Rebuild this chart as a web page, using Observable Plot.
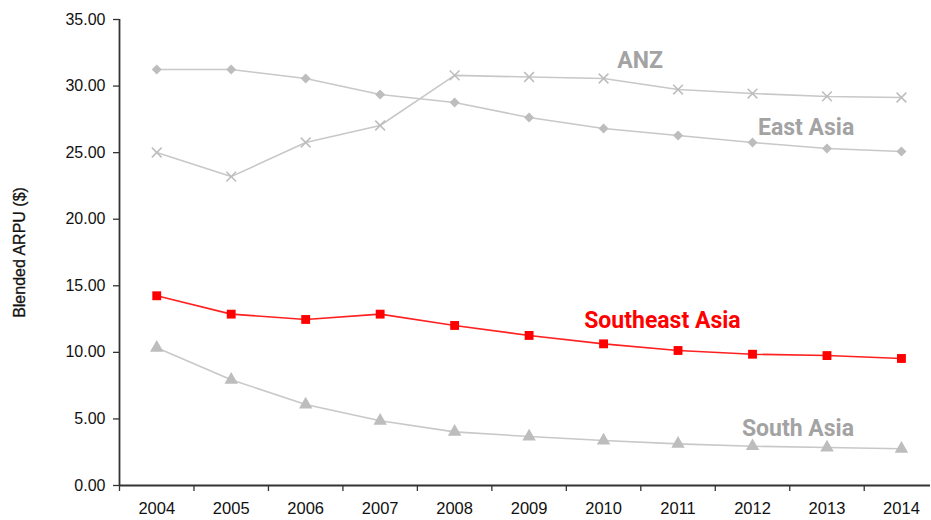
<!DOCTYPE html>
<html>
<head>
<meta charset="utf-8">
<script src="https://cdn.jsdelivr.net/npm/d3@7"></script>
<script src="https://cdn.jsdelivr.net/npm/@observablehq/plot@0.6"></script>
<style>
  html, body { margin: 0; padding: 0; background: #fff; }
  svg { display: block; }
</style>
</head>
<body>
<div id="chart"></div>
<script>
const years = [2004, 2005, 2006, 2007, 2008, 2009, 2010, 2011, 2012, 2013, 2014];
const eastAsia = [31.25, 31.25, 30.57, 29.37, 28.77, 27.64, 26.81, 26.29, 25.76, 25.31, 25.09];
const anz = [25.01, 23.2, 25.76, 27.04, 30.8, 30.68, 30.57, 29.74, 29.44, 29.22, 29.14];
const southeastAsia = [14.25, 12.87, 12.47, 12.87, 12.02, 11.27, 10.64, 10.14, 9.86, 9.76, 9.54];
const southAsia = [10.34, 7.94, 6.08, 4.86, 4.03, 3.68, 3.38, 3.13, 2.95, 2.85, 2.76];
const yTicks = [0, 5, 10, 15, 20, 25, 30, 35];
const seriesNames = ["East Asia", "ANZ", "Southeast Asia", "South Asia"];
const labelPos = [
  {name: "ANZ", year: 2010.49, value: 31.92},
  {name: "East Asia", year: 2012.72, value: 26.89},
  {name: "Southeast Asia", year: 2010.79, value: 12.39},
  {name: "South Asia", year: 2012.61, value: 4.28}
];

const seriesValues = [eastAsia, anz, southeastAsia, southAsia];
const styles = {
  "East Asia": {line: "#c8c8c8", mark: "#bdbdbd", symbol: "square", rotate: 45, r: 4, filled: true, text: "#a3a3a3"},
  "ANZ": {line: "#c8c8c8", mark: "#bdbdbd", symbol: "times", rotate: 0, r: 4.5, filled: false, text: "#a3a3a3"},
  "Southeast Asia": {line: "#ff2020", mark: "#ff0000", symbol: "square", rotate: 0, r: 5, filled: true, text: "#ff0000"},
  "South Asia": {line: "#c8c8c8", mark: "#bdbdbd", symbol: "triangle", rotate: 0, r: 5, filled: true, text: "#a3a3a3"}
};

const marks = [];
seriesNames.forEach((name, i) => {
  const data = years.map((yr, j) => ({year: yr, value: seriesValues[i][j]}));
  const s = styles[name];
  marks.push(Plot.line(data, {x: "year", y: "value", stroke: s.line, strokeWidth: 1.6}));
  if (s.filled) {
    marks.push(Plot.dot(data, {x: "year", y: "value", symbol: s.symbol, rotate: s.rotate, r: s.r, fill: s.mark, stroke: "none"}));
  } else {
    marks.push(Plot.dot(data, {x: "year", y: "value", symbol: s.symbol, r: s.r, stroke: s.mark, strokeWidth: 1.5, fill: "none"}));
  }
});

labelPos.forEach(l => {
  marks.push(Plot.text([l], {x: "year", y: "value", text: "name", fill: styles[l.name].text,
    fontSize: 23, fontWeight: "bold", fontFamily: "Roboto, 'Liberation Sans', sans-serif"}));
});

const boundaries = years.map(y => y - 0.5);

const chart = Plot.plot({
  width: 931,
  height: 520,
  marginLeft: 119,
  marginRight: 1,
  marginTop: 19,
  marginBottom: 35,
  style: {fontFamily: "'Liberation Sans', Arial, sans-serif", background: "#fff"},
  x: {type: "linear", domain: [2003.5, 2014.39]},
  y: {domain: [0, 35]},
  marks: [
    Plot.axisY({ticks: yTicks, tickSize: 6, tickPadding: 8, tickFormat: d => d.toFixed(2),
      fontSize: 16, stroke: "#333", strokeWidth: 1.3, fill: "#111", label: null}),
    Plot.axisX({ticks: boundaries, tickSize: 6, tickFormat: () => "", stroke: "#333", strokeWidth: 1.3, label: null}),
    Plot.axisX({ticks: years, tickSize: 0, tickPadding: 17, tickFormat: d => String(d), fontSize: 16.5, fill: "#111", label: null}),
    Plot.ruleX([2003.5], {stroke: "#333", strokeWidth: 1.8}),
    Plot.ruleY([0], {stroke: "#333", strokeWidth: 1.8}),
    Plot.text(["Blended ARPU ($)"], {frameAnchor: "left", rotate: -90, dx: -100, fontSize: 16,
      textAnchor: "middle", fill: "#111", stroke: "#111", strokeWidth: 0.3}),
    ...marks
  ]
});
document.getElementById("chart").appendChild(chart);
</script>
</body>
</html>
